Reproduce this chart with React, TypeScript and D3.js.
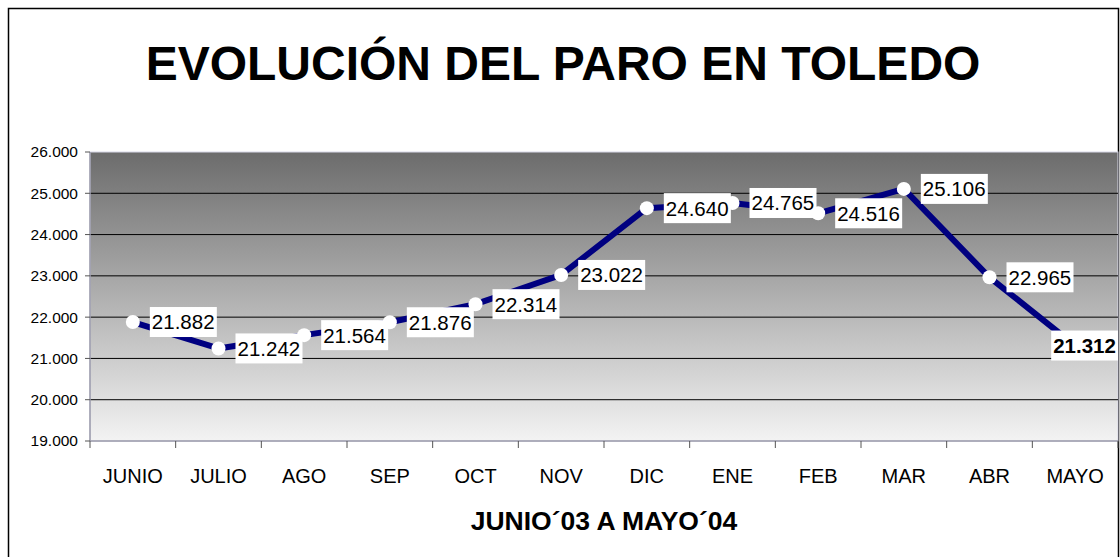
import { useEffect, useRef } from 'react'
import * as d3 from 'd3'

const MONTHS = ['JUNIO', 'JULIO', 'AGO', 'SEP', 'OCT', 'NOV', 'DIC', 'ENE', 'FEB', 'MAR', 'ABR', 'MAYO']
const PARO = [21882, 21242, 21564, 21876, 22314, 23022, 24640, 24765, 24516, 25106, 22965, 21312]
const Y_TICKS = [19000, 20000, 21000, 22000, 23000, 24000, 25000, 26000]

const TITLE = 'EVOLUCIÓN DEL PARO EN TOLEDO'
const X_TITLE = 'JUNIO´03 A MAYO´04'

const fmt = (v: number) => d3.format(',.0f')(v).replace(/,/g, '.')
const fmt3 = (v: number) => (v / 1000).toFixed(3)

export default function App() {
  const ref = useRef<SVGSVGElement>(null)

  useEffect(() => {
    const width = 1120
    const height = 557
    const left = 90
    const right = 1118
    const top = 152
    const bottom = 441
    const font = 'Arial, "Liberation Sans", sans-serif'

    const svg = d3.select(ref.current)
    svg.selectAll('*').remove()
    svg.attr('viewBox', `0 0 ${width} ${height}`)

    svg.append('rect').attr('width', width).attr('height', height).attr('fill', '#ffffff')
    svg.append('rect')
      .attr('x', 8.5).attr('y', 8.5)
      .attr('width', 1110).attr('height', 600)
      .attr('fill', 'none').attr('stroke', '#000').attr('stroke-width', 1.5)

    const defs = svg.append('defs')
    const grad = defs.append('linearGradient')
      .attr('id', 'bg').attr('x1', 0).attr('y1', 0).attr('x2', 0).attr('y2', 1)
    grad.append('stop').attr('offset', '0%').attr('stop-color', '#6c6c6c')
    grad.append('stop').attr('offset', '100%').attr('stop-color', '#f3f3f3')
    defs.append('clipPath').attr('id', 'plotclip')
      .append('rect').attr('x', left).attr('y', top - 40).attr('width', right - left).attr('height', bottom - top + 80)

    const x = d3.scalePoint<string>().domain(MONTHS).range([left, right]).padding(0.5)
    const y = d3.scaleLinear().domain([19000, 26000]).range([bottom, top])
    const step = x.step()

    svg.append('text')
      .attr('x', 563).attr('y', 80)
      .attr('text-anchor', 'middle')
      .attr('font-family', font).attr('font-weight', 'bold').attr('font-size', 48)
      .text(TITLE)

    svg.append('rect')
      .attr('x', left).attr('y', top)
      .attr('width', right - left).attr('height', bottom - top)
      .attr('fill', 'url(#bg)')
      .attr('stroke', '#d8d8e8').attr('stroke-width', 1)

    // gridlines
    svg.append('g').selectAll('line')
      .data(Y_TICKS.filter((t) => t !== 19000 && t !== 26000))
      .enter().append('line')
      .attr('x1', left).attr('x2', right)
      .attr('y1', (d) => y(d)).attr('y2', (d) => y(d))
      .attr('stroke', '#000').attr('stroke-width', 1)

    // y axis
    const ya = svg.append('g')
    ya.append('line').attr('x1', left).attr('x2', left).attr('y1', top).attr('y2', bottom)
      .attr('stroke', '#9a9aaa').attr('stroke-width', 1.5)
    ya.selectAll('line.tk').data(Y_TICKS).enter().append('line').attr('class', 'tk')
      .attr('x1', left - 5).attr('x2', left).attr('y1', (d) => y(d)).attr('y2', (d) => y(d))
      .attr('stroke', '#555')
    ya.selectAll('text').data(Y_TICKS).enter().append('text')
      .attr('x', left - 12).attr('y', (d) => y(d)).attr('dy', '0.35em')
      .attr('text-anchor', 'end')
      .attr('font-family', font).attr('font-size', 15.5)
      .text((d) => fmt(d))

    // x axis
    const xa = svg.append('g')
    xa.append('line').attr('x1', left).attr('x2', right).attr('y1', bottom).attr('y2', bottom)
      .attr('stroke', '#9a9aaa').attr('stroke-width', 1.5)
    const bounds = d3.range(MONTHS.length + 1).map((i) => left + i * step)
    xa.selectAll('line.tk').data(bounds).enter().append('line').attr('class', 'tk')
      .attr('x1', (d) => d).attr('x2', (d) => d).attr('y1', bottom).attr('y2', bottom + 7)
      .attr('stroke', '#555')
    xa.selectAll('text').data(MONTHS).enter().append('text')
      .attr('x', (d) => x(d)!).attr('y', 483)
      .attr('text-anchor', 'middle')
      .attr('font-family', font).attr('font-size', 20)
      .text((d) => d)

    svg.append('text')
      .attr('x', (left + right) / 2).attr('y', 530)
      .attr('text-anchor', 'middle')
      .attr('font-family', font).attr('font-weight', 'bold').attr('font-size', 26.5)
      .text(X_TITLE)

    const pts = MONTHS.map((m, i) => ({ m, v: PARO[i], px: x(m)!, py: y(PARO[i]) }))

    const plot = svg.append('g').attr('clip-path', 'url(#plotclip)')
    plot.append('path')
      .datum(pts)
      .attr('d', d3.line<typeof pts[0]>().x((d) => d.px).y((d) => d.py))
      .attr('fill', 'none').attr('stroke', '#000080').attr('stroke-width', 6)
      .attr('stroke-linejoin', 'round')

    plot.selectAll('circle').data(pts).enter().append('circle')
      .attr('cx', (d) => d.px).attr('cy', (d) => d.py).attr('r', 7)
      .attr('fill', '#ffffff')

    const last = pts.length - 1
    const lbl = plot.selectAll('g.lbl').data(pts).enter().append('g').attr('class', 'lbl')
      .attr('transform', (d, i) => i === last
        ? `translate(${d.px - 24},${d.py})`
        : `translate(${d.px + 17},${d.py})`)
    lbl.append('rect')
      .attr('x', 0).attr('y', -15).attr('width', 67).attr('height', 30)
      .attr('fill', '#ffffff')
    lbl.append('text')
      .attr('x', 2).attr('y', 0).attr('dy', '0.36em')
      .attr('font-family', font).attr('font-size', 20.5)
      .attr('font-weight', (d, i) => (i === last ? 'bold' : 'normal'))
      .text((d) => fmt3(d.v))
  }, [])

  return (
    <svg
      ref={ref}
      width={1120}
      height={557}
      style={{ position: 'absolute', left: 0, top: 0, display: 'block' }}
    />
  )
}
